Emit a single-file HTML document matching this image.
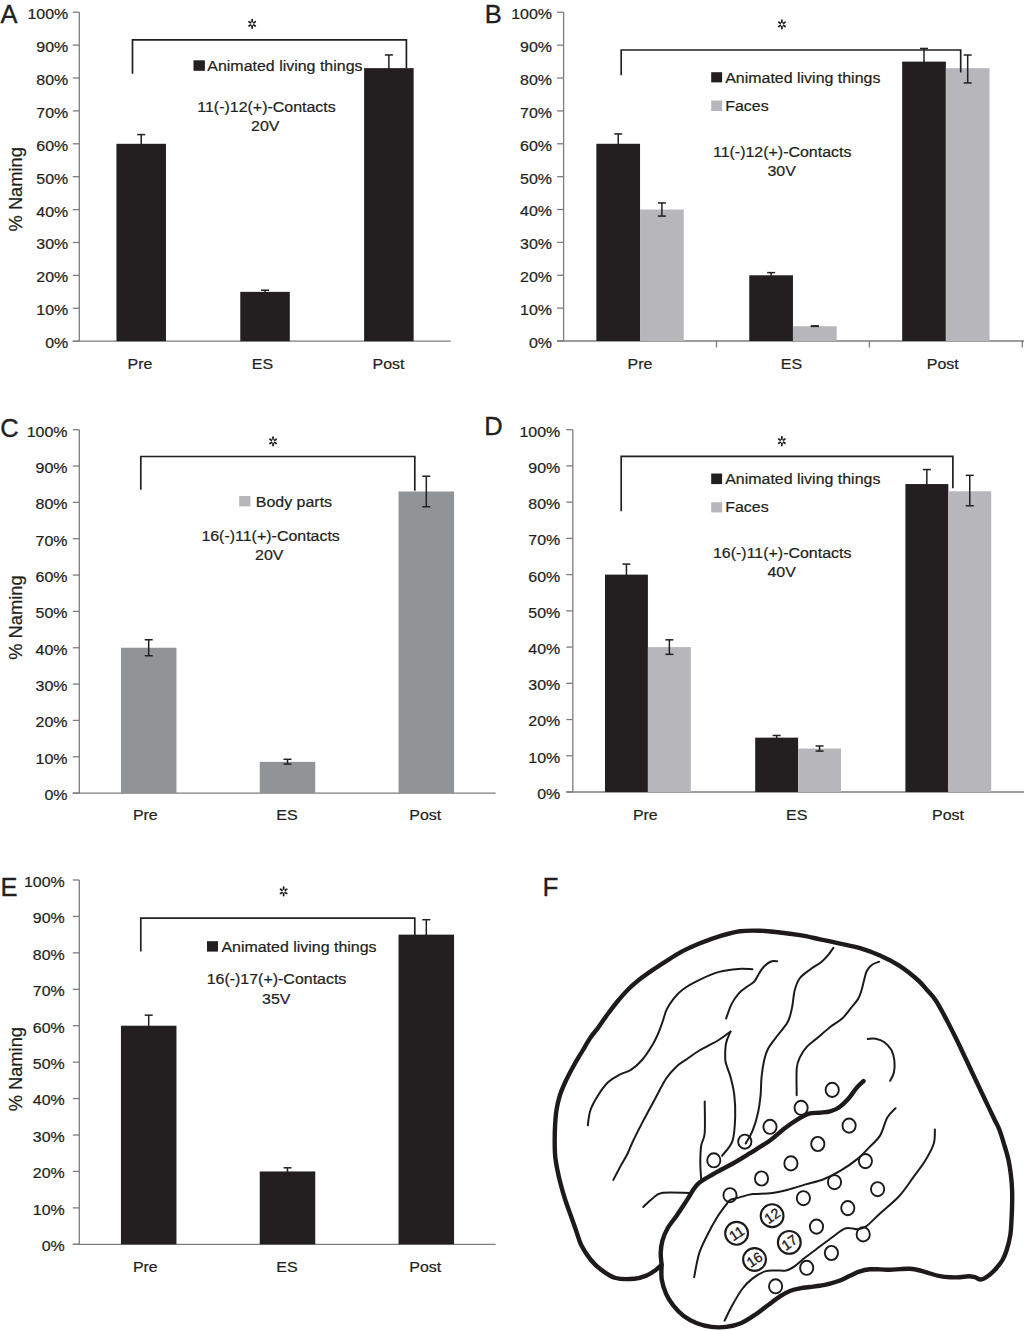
<!DOCTYPE html>
<html><head><meta charset="utf-8"><title>Figure</title>
<style>
html,body{margin:0;padding:0;background:#fff;}
svg{display:block;}
text{font-family:'Liberation Sans', Arial, Helvetica, sans-serif;}
.t{stroke:#231f20;stroke-width:0.22px;}
</style></head>
<body>
<svg width="1024" height="1331" viewBox="0 0 1024 1331">
<rect width="1024" height="1331" fill="#fff"/>
<text x="0.5" y="22.7" font-size="25.5" fill="#231f20" stroke="#231f20" stroke-width="0.35">A</text>
<text transform="translate(22.00,189.30) rotate(-90)" class="t" font-size="18.3" text-anchor="middle" fill="#231f20">% Naming</text>
<line x1="79.30" y1="12.20" x2="79.30" y2="341.20" stroke="#7d7d7d" stroke-width="1.3" stroke-linecap="butt"/>
<line x1="72.80" y1="341.20" x2="79.30" y2="341.20" stroke="#7d7d7d" stroke-width="1.3" stroke-linecap="butt"/>
<text class="t" transform="translate(68.30,348.10) scale(1.05,1)" font-size="15.2" text-anchor="end" fill="#231f20">0%</text>
<line x1="72.80" y1="308.30" x2="79.30" y2="308.30" stroke="#7d7d7d" stroke-width="1.3" stroke-linecap="butt"/>
<text class="t" transform="translate(68.30,315.20) scale(1.05,1)" font-size="15.2" text-anchor="end" fill="#231f20">10%</text>
<line x1="72.80" y1="275.40" x2="79.30" y2="275.40" stroke="#7d7d7d" stroke-width="1.3" stroke-linecap="butt"/>
<text class="t" transform="translate(68.30,282.30) scale(1.05,1)" font-size="15.2" text-anchor="end" fill="#231f20">20%</text>
<line x1="72.80" y1="242.50" x2="79.30" y2="242.50" stroke="#7d7d7d" stroke-width="1.3" stroke-linecap="butt"/>
<text class="t" transform="translate(68.30,249.40) scale(1.05,1)" font-size="15.2" text-anchor="end" fill="#231f20">30%</text>
<line x1="72.80" y1="209.60" x2="79.30" y2="209.60" stroke="#7d7d7d" stroke-width="1.3" stroke-linecap="butt"/>
<text class="t" transform="translate(68.30,216.50) scale(1.05,1)" font-size="15.2" text-anchor="end" fill="#231f20">40%</text>
<line x1="72.80" y1="176.70" x2="79.30" y2="176.70" stroke="#7d7d7d" stroke-width="1.3" stroke-linecap="butt"/>
<text class="t" transform="translate(68.30,183.60) scale(1.05,1)" font-size="15.2" text-anchor="end" fill="#231f20">50%</text>
<line x1="72.80" y1="143.80" x2="79.30" y2="143.80" stroke="#7d7d7d" stroke-width="1.3" stroke-linecap="butt"/>
<text class="t" transform="translate(68.30,150.70) scale(1.05,1)" font-size="15.2" text-anchor="end" fill="#231f20">60%</text>
<line x1="72.80" y1="110.90" x2="79.30" y2="110.90" stroke="#7d7d7d" stroke-width="1.3" stroke-linecap="butt"/>
<text class="t" transform="translate(68.30,117.80) scale(1.05,1)" font-size="15.2" text-anchor="end" fill="#231f20">70%</text>
<line x1="72.80" y1="78.00" x2="79.30" y2="78.00" stroke="#7d7d7d" stroke-width="1.3" stroke-linecap="butt"/>
<text class="t" transform="translate(68.30,84.90) scale(1.05,1)" font-size="15.2" text-anchor="end" fill="#231f20">80%</text>
<line x1="72.80" y1="45.10" x2="79.30" y2="45.10" stroke="#7d7d7d" stroke-width="1.3" stroke-linecap="butt"/>
<text class="t" transform="translate(68.30,52.00) scale(1.05,1)" font-size="15.2" text-anchor="end" fill="#231f20">90%</text>
<line x1="72.80" y1="12.20" x2="79.30" y2="12.20" stroke="#7d7d7d" stroke-width="1.3" stroke-linecap="butt"/>
<text class="t" transform="translate(68.30,19.10) scale(1.05,1)" font-size="15.2" text-anchor="end" fill="#231f20">100%</text>
<line x1="72.80" y1="341.20" x2="450.80" y2="341.20" stroke="#7d7d7d" stroke-width="1.3" stroke-linecap="butt"/>
<rect x="116.45" y="143.80" width="49.53" height="197.40" fill="#231f20"/>
<line x1="141.22" y1="134.59" x2="141.22" y2="153.01" stroke="#231f20" stroke-width="1.5" stroke-linecap="butt"/>
<line x1="137.22" y1="134.59" x2="145.22" y2="134.59" stroke="#231f20" stroke-width="1.5" stroke-linecap="butt"/>
<line x1="137.22" y1="153.01" x2="145.22" y2="153.01" stroke="#231f20" stroke-width="1.5" stroke-linecap="butt"/>
<rect x="240.28" y="291.85" width="49.53" height="49.35" fill="#231f20"/>
<line x1="265.05" y1="290.20" x2="265.05" y2="293.50" stroke="#231f20" stroke-width="1.5" stroke-linecap="butt"/>
<line x1="261.05" y1="290.20" x2="269.05" y2="290.20" stroke="#231f20" stroke-width="1.5" stroke-linecap="butt"/>
<line x1="261.05" y1="293.50" x2="269.05" y2="293.50" stroke="#231f20" stroke-width="1.5" stroke-linecap="butt"/>
<rect x="364.11" y="68.13" width="49.53" height="273.07" fill="#231f20"/>
<line x1="388.88" y1="54.97" x2="388.88" y2="81.29" stroke="#231f20" stroke-width="1.5" stroke-linecap="butt"/>
<line x1="384.88" y1="54.97" x2="392.88" y2="54.97" stroke="#231f20" stroke-width="1.5" stroke-linecap="butt"/>
<line x1="384.88" y1="81.29" x2="392.88" y2="81.29" stroke="#231f20" stroke-width="1.5" stroke-linecap="butt"/>
<text class="t" transform="translate(140.00,369.30) scale(1.05,1)" font-size="15.2" text-anchor="middle" fill="#231f20">Pre</text>
<text class="t" transform="translate(262.50,369.30) scale(1.05,1)" font-size="15.2" text-anchor="middle" fill="#231f20">ES</text>
<text class="t" transform="translate(388.50,369.30) scale(1.05,1)" font-size="15.2" text-anchor="middle" fill="#231f20">Post</text>
<path d="M132.50,73.80V39.90H406.40V68.30" stroke="#231f20" stroke-width="1.7" fill="none"/>
<path d="M252.15,21.60L252.15,19.60M253.77,22.70L255.24,21.70M253.77,24.90L255.24,25.90M252.15,26.00L252.15,28.00M250.53,24.90L249.06,25.90M250.53,22.70L249.06,21.70" stroke="#231f20" stroke-width="1.8" stroke-linecap="round" fill="none"/>
<rect x="193.50" y="60.30" width="11.40" height="10.50" fill="#231f20"/>
<text class="t" transform="translate(207.30,70.60) scale(1.05,1)" font-size="15.2" text-anchor="start" fill="#231f20">Animated living things</text>
<text class="t" transform="translate(266.50,112.20) scale(1.05,1)" font-size="15.2" text-anchor="middle" fill="#231f20">11(-)12(+)-Contacts</text>
<text class="t" transform="translate(265.30,130.80) scale(1.05,1)" font-size="15.2" text-anchor="middle" fill="#231f20">20V</text>
<text x="484.8" y="22.9" font-size="25.5" fill="#231f20" stroke="#231f20" stroke-width="0.35">B</text>
<line x1="563.60" y1="12.30" x2="563.60" y2="341.00" stroke="#7d7d7d" stroke-width="1.3" stroke-linecap="butt"/>
<line x1="557.10" y1="341.00" x2="563.60" y2="341.00" stroke="#7d7d7d" stroke-width="1.3" stroke-linecap="butt"/>
<text class="t" transform="translate(552.00,347.90) scale(1.05,1)" font-size="15.2" text-anchor="end" fill="#231f20">0%</text>
<line x1="557.10" y1="308.13" x2="563.60" y2="308.13" stroke="#7d7d7d" stroke-width="1.3" stroke-linecap="butt"/>
<text class="t" transform="translate(552.00,315.03) scale(1.05,1)" font-size="15.2" text-anchor="end" fill="#231f20">10%</text>
<line x1="557.10" y1="275.26" x2="563.60" y2="275.26" stroke="#7d7d7d" stroke-width="1.3" stroke-linecap="butt"/>
<text class="t" transform="translate(552.00,282.16) scale(1.05,1)" font-size="15.2" text-anchor="end" fill="#231f20">20%</text>
<line x1="557.10" y1="242.39" x2="563.60" y2="242.39" stroke="#7d7d7d" stroke-width="1.3" stroke-linecap="butt"/>
<text class="t" transform="translate(552.00,249.29) scale(1.05,1)" font-size="15.2" text-anchor="end" fill="#231f20">30%</text>
<line x1="557.10" y1="209.52" x2="563.60" y2="209.52" stroke="#7d7d7d" stroke-width="1.3" stroke-linecap="butt"/>
<text class="t" transform="translate(552.00,216.42) scale(1.05,1)" font-size="15.2" text-anchor="end" fill="#231f20">40%</text>
<line x1="557.10" y1="176.65" x2="563.60" y2="176.65" stroke="#7d7d7d" stroke-width="1.3" stroke-linecap="butt"/>
<text class="t" transform="translate(552.00,183.55) scale(1.05,1)" font-size="15.2" text-anchor="end" fill="#231f20">50%</text>
<line x1="557.10" y1="143.78" x2="563.60" y2="143.78" stroke="#7d7d7d" stroke-width="1.3" stroke-linecap="butt"/>
<text class="t" transform="translate(552.00,150.68) scale(1.05,1)" font-size="15.2" text-anchor="end" fill="#231f20">60%</text>
<line x1="557.10" y1="110.91" x2="563.60" y2="110.91" stroke="#7d7d7d" stroke-width="1.3" stroke-linecap="butt"/>
<text class="t" transform="translate(552.00,117.81) scale(1.05,1)" font-size="15.2" text-anchor="end" fill="#231f20">70%</text>
<line x1="557.10" y1="78.04" x2="563.60" y2="78.04" stroke="#7d7d7d" stroke-width="1.3" stroke-linecap="butt"/>
<text class="t" transform="translate(552.00,84.94) scale(1.05,1)" font-size="15.2" text-anchor="end" fill="#231f20">80%</text>
<line x1="557.10" y1="45.17" x2="563.60" y2="45.17" stroke="#7d7d7d" stroke-width="1.3" stroke-linecap="butt"/>
<text class="t" transform="translate(552.00,52.07) scale(1.05,1)" font-size="15.2" text-anchor="end" fill="#231f20">90%</text>
<line x1="557.10" y1="12.30" x2="563.60" y2="12.30" stroke="#7d7d7d" stroke-width="1.3" stroke-linecap="butt"/>
<text class="t" transform="translate(552.00,19.20) scale(1.05,1)" font-size="15.2" text-anchor="end" fill="#231f20">100%</text>
<line x1="557.10" y1="341.00" x2="1024.00" y2="341.00" stroke="#7d7d7d" stroke-width="1.3" stroke-linecap="butt"/>
<line x1="716.50" y1="341.00" x2="716.50" y2="347.50" stroke="#7d7d7d" stroke-width="1.3" stroke-linecap="butt"/>
<line x1="869.40" y1="341.00" x2="869.40" y2="347.50" stroke="#7d7d7d" stroke-width="1.3" stroke-linecap="butt"/>
<line x1="1022.30" y1="341.00" x2="1022.30" y2="347.50" stroke="#7d7d7d" stroke-width="1.3" stroke-linecap="butt"/>
<rect x="596.36" y="143.78" width="43.69" height="197.22" fill="#231f20"/>
<rect x="640.05" y="209.52" width="43.69" height="131.48" fill="#b7b6bb"/>
<line x1="618.21" y1="133.92" x2="618.21" y2="153.64" stroke="#231f20" stroke-width="1.5" stroke-linecap="butt"/>
<line x1="614.21" y1="133.92" x2="622.21" y2="133.92" stroke="#231f20" stroke-width="1.5" stroke-linecap="butt"/>
<line x1="614.21" y1="153.64" x2="622.21" y2="153.64" stroke="#231f20" stroke-width="1.5" stroke-linecap="butt"/>
<line x1="661.89" y1="202.95" x2="661.89" y2="216.09" stroke="#231f20" stroke-width="1.5" stroke-linecap="butt"/>
<line x1="657.89" y1="202.95" x2="665.89" y2="202.95" stroke="#231f20" stroke-width="1.5" stroke-linecap="butt"/>
<line x1="657.89" y1="216.09" x2="665.89" y2="216.09" stroke="#231f20" stroke-width="1.5" stroke-linecap="butt"/>
<rect x="749.26" y="275.26" width="43.69" height="65.74" fill="#231f20"/>
<rect x="792.95" y="326.21" width="43.69" height="14.79" fill="#b7b6bb"/>
<line x1="771.11" y1="272.63" x2="771.11" y2="278.55" stroke="#231f20" stroke-width="1.5" stroke-linecap="butt"/>
<line x1="767.11" y1="272.63" x2="775.11" y2="272.63" stroke="#231f20" stroke-width="1.5" stroke-linecap="butt"/>
<line x1="767.11" y1="278.55" x2="775.11" y2="278.55" stroke="#231f20" stroke-width="1.5" stroke-linecap="butt"/>
<line x1="814.79" y1="325.88" x2="814.79" y2="326.37" stroke="#231f20" stroke-width="1.5" stroke-linecap="butt"/>
<line x1="810.79" y1="325.88" x2="818.79" y2="325.88" stroke="#231f20" stroke-width="1.5" stroke-linecap="butt"/>
<line x1="810.79" y1="326.37" x2="818.79" y2="326.37" stroke="#231f20" stroke-width="1.5" stroke-linecap="butt"/>
<rect x="902.16" y="61.61" width="43.69" height="279.39" fill="#231f20"/>
<rect x="945.85" y="68.18" width="43.69" height="272.82" fill="#b7b6bb"/>
<line x1="924.01" y1="48.46" x2="924.01" y2="74.75" stroke="#231f20" stroke-width="1.5" stroke-linecap="butt"/>
<line x1="920.01" y1="48.46" x2="928.01" y2="48.46" stroke="#231f20" stroke-width="1.5" stroke-linecap="butt"/>
<line x1="920.01" y1="74.75" x2="928.01" y2="74.75" stroke="#231f20" stroke-width="1.5" stroke-linecap="butt"/>
<line x1="967.69" y1="55.03" x2="967.69" y2="82.97" stroke="#231f20" stroke-width="1.5" stroke-linecap="butt"/>
<line x1="963.69" y1="55.03" x2="971.69" y2="55.03" stroke="#231f20" stroke-width="1.5" stroke-linecap="butt"/>
<line x1="963.69" y1="82.97" x2="971.69" y2="82.97" stroke="#231f20" stroke-width="1.5" stroke-linecap="butt"/>
<text class="t" transform="translate(640.00,369.20) scale(1.05,1)" font-size="15.2" text-anchor="middle" fill="#231f20">Pre</text>
<text class="t" transform="translate(791.50,369.20) scale(1.05,1)" font-size="15.2" text-anchor="middle" fill="#231f20">ES</text>
<text class="t" transform="translate(942.80,369.20) scale(1.05,1)" font-size="15.2" text-anchor="middle" fill="#231f20">Post</text>
<path d="M621.20,75.20V50.00H960.70V72.40" stroke="#231f20" stroke-width="1.7" fill="none"/>
<path d="M781.95,22.20L781.95,20.20M783.57,23.30L785.04,22.30M783.57,25.50L785.04,26.50M781.95,26.60L781.95,28.60M780.33,25.50L778.86,26.50M780.33,23.30L778.86,22.30" stroke="#231f20" stroke-width="1.8" stroke-linecap="round" fill="none"/>
<rect x="711.20" y="72.20" width="10.90" height="10.20" fill="#231f20"/>
<text class="t" transform="translate(725.20,83.20) scale(1.05,1)" font-size="15.2" text-anchor="start" fill="#231f20">Animated living things</text>
<rect x="711.20" y="100.50" width="10.90" height="10.50" fill="#b7b6bb"/>
<text class="t" transform="translate(725.20,111.00) scale(1.05,1)" font-size="15.2" text-anchor="start" fill="#231f20">Faces</text>
<text class="t" transform="translate(782.20,157.20) scale(1.05,1)" font-size="15.2" text-anchor="middle" fill="#231f20">11(-)12(+)-Contacts</text>
<text class="t" transform="translate(781.60,175.50) scale(1.05,1)" font-size="15.2" text-anchor="middle" fill="#231f20">30V</text>
<text x="0.3" y="436.8" font-size="25.5" fill="#231f20" stroke="#231f20" stroke-width="0.35">C</text>
<text transform="translate(21.80,617.60) rotate(-90)" class="t" font-size="18.3" text-anchor="middle" fill="#231f20">% Naming</text>
<line x1="79.30" y1="429.70" x2="79.30" y2="793.10" stroke="#7d7d7d" stroke-width="1.3" stroke-linecap="butt"/>
<line x1="72.80" y1="793.10" x2="79.30" y2="793.10" stroke="#7d7d7d" stroke-width="1.3" stroke-linecap="butt"/>
<text class="t" transform="translate(67.50,800.00) scale(1.05,1)" font-size="15.2" text-anchor="end" fill="#231f20">0%</text>
<line x1="72.80" y1="756.76" x2="79.30" y2="756.76" stroke="#7d7d7d" stroke-width="1.3" stroke-linecap="butt"/>
<text class="t" transform="translate(67.50,763.66) scale(1.05,1)" font-size="15.2" text-anchor="end" fill="#231f20">10%</text>
<line x1="72.80" y1="720.42" x2="79.30" y2="720.42" stroke="#7d7d7d" stroke-width="1.3" stroke-linecap="butt"/>
<text class="t" transform="translate(67.50,727.32) scale(1.05,1)" font-size="15.2" text-anchor="end" fill="#231f20">20%</text>
<line x1="72.80" y1="684.08" x2="79.30" y2="684.08" stroke="#7d7d7d" stroke-width="1.3" stroke-linecap="butt"/>
<text class="t" transform="translate(67.50,690.98) scale(1.05,1)" font-size="15.2" text-anchor="end" fill="#231f20">30%</text>
<line x1="72.80" y1="647.74" x2="79.30" y2="647.74" stroke="#7d7d7d" stroke-width="1.3" stroke-linecap="butt"/>
<text class="t" transform="translate(67.50,654.64) scale(1.05,1)" font-size="15.2" text-anchor="end" fill="#231f20">40%</text>
<line x1="72.80" y1="611.40" x2="79.30" y2="611.40" stroke="#7d7d7d" stroke-width="1.3" stroke-linecap="butt"/>
<text class="t" transform="translate(67.50,618.30) scale(1.05,1)" font-size="15.2" text-anchor="end" fill="#231f20">50%</text>
<line x1="72.80" y1="575.06" x2="79.30" y2="575.06" stroke="#7d7d7d" stroke-width="1.3" stroke-linecap="butt"/>
<text class="t" transform="translate(67.50,581.96) scale(1.05,1)" font-size="15.2" text-anchor="end" fill="#231f20">60%</text>
<line x1="72.80" y1="538.72" x2="79.30" y2="538.72" stroke="#7d7d7d" stroke-width="1.3" stroke-linecap="butt"/>
<text class="t" transform="translate(67.50,545.62) scale(1.05,1)" font-size="15.2" text-anchor="end" fill="#231f20">70%</text>
<line x1="72.80" y1="502.38" x2="79.30" y2="502.38" stroke="#7d7d7d" stroke-width="1.3" stroke-linecap="butt"/>
<text class="t" transform="translate(67.50,509.28) scale(1.05,1)" font-size="15.2" text-anchor="end" fill="#231f20">80%</text>
<line x1="72.80" y1="466.04" x2="79.30" y2="466.04" stroke="#7d7d7d" stroke-width="1.3" stroke-linecap="butt"/>
<text class="t" transform="translate(67.50,472.94) scale(1.05,1)" font-size="15.2" text-anchor="end" fill="#231f20">90%</text>
<line x1="72.80" y1="429.70" x2="79.30" y2="429.70" stroke="#7d7d7d" stroke-width="1.3" stroke-linecap="butt"/>
<text class="t" transform="translate(67.50,436.60) scale(1.05,1)" font-size="15.2" text-anchor="end" fill="#231f20">100%</text>
<line x1="72.80" y1="793.10" x2="495.70" y2="793.10" stroke="#7d7d7d" stroke-width="1.3" stroke-linecap="butt"/>
<rect x="120.94" y="647.74" width="55.52" height="145.36" fill="#909497"/>
<line x1="148.70" y1="639.75" x2="148.70" y2="655.73" stroke="#231f20" stroke-width="1.5" stroke-linecap="butt"/>
<line x1="144.70" y1="639.75" x2="152.70" y2="639.75" stroke="#231f20" stroke-width="1.5" stroke-linecap="butt"/>
<line x1="144.70" y1="655.73" x2="152.70" y2="655.73" stroke="#231f20" stroke-width="1.5" stroke-linecap="butt"/>
<rect x="259.74" y="761.85" width="55.52" height="31.25" fill="#909497"/>
<line x1="287.50" y1="759.30" x2="287.50" y2="764.03" stroke="#231f20" stroke-width="1.5" stroke-linecap="butt"/>
<line x1="283.50" y1="759.30" x2="291.50" y2="759.30" stroke="#231f20" stroke-width="1.5" stroke-linecap="butt"/>
<line x1="283.50" y1="764.03" x2="291.50" y2="764.03" stroke="#231f20" stroke-width="1.5" stroke-linecap="butt"/>
<rect x="398.54" y="491.48" width="55.52" height="301.62" fill="#909497"/>
<line x1="426.30" y1="476.22" x2="426.30" y2="506.74" stroke="#231f20" stroke-width="1.5" stroke-linecap="butt"/>
<line x1="422.30" y1="476.22" x2="430.30" y2="476.22" stroke="#231f20" stroke-width="1.5" stroke-linecap="butt"/>
<line x1="422.30" y1="506.74" x2="430.30" y2="506.74" stroke="#231f20" stroke-width="1.5" stroke-linecap="butt"/>
<text class="t" transform="translate(145.30,820.00) scale(1.05,1)" font-size="15.2" text-anchor="middle" fill="#231f20">Pre</text>
<text class="t" transform="translate(286.90,820.00) scale(1.05,1)" font-size="15.2" text-anchor="middle" fill="#231f20">ES</text>
<text class="t" transform="translate(425.20,820.00) scale(1.05,1)" font-size="15.2" text-anchor="middle" fill="#231f20">Post</text>
<path d="M140.80,489.80V456.50H414.80V490.70" stroke="#231f20" stroke-width="1.7" fill="none"/>
<path d="M273.05,439.10L273.05,437.10M274.67,440.20L276.14,439.20M274.67,442.40L276.14,443.40M273.05,443.50L273.05,445.50M271.43,442.40L269.96,443.40M271.43,440.20L269.96,439.20" stroke="#231f20" stroke-width="1.8" stroke-linecap="round" fill="none"/>
<rect x="239.20" y="496.00" width="11.20" height="10.40" fill="#b7b6bb"/>
<text class="t" transform="translate(255.80,506.80) scale(1.05,1)" font-size="15.2" text-anchor="start" fill="#231f20">Body parts</text>
<text class="t" transform="translate(270.60,540.70) scale(1.05,1)" font-size="15.2" text-anchor="middle" fill="#231f20">16(-)11(+)-Contacts</text>
<text class="t" transform="translate(269.30,559.60) scale(1.05,1)" font-size="15.2" text-anchor="middle" fill="#231f20">20V</text>
<text x="484.3" y="435.4" font-size="25.5" fill="#231f20" stroke="#231f20" stroke-width="0.35">D</text>
<line x1="572.80" y1="429.70" x2="572.80" y2="792.00" stroke="#7d7d7d" stroke-width="1.3" stroke-linecap="butt"/>
<line x1="566.30" y1="792.00" x2="572.80" y2="792.00" stroke="#7d7d7d" stroke-width="1.3" stroke-linecap="butt"/>
<text class="t" transform="translate(560.20,798.90) scale(1.05,1)" font-size="15.2" text-anchor="end" fill="#231f20">0%</text>
<line x1="566.30" y1="755.77" x2="572.80" y2="755.77" stroke="#7d7d7d" stroke-width="1.3" stroke-linecap="butt"/>
<text class="t" transform="translate(560.20,762.67) scale(1.05,1)" font-size="15.2" text-anchor="end" fill="#231f20">10%</text>
<line x1="566.30" y1="719.54" x2="572.80" y2="719.54" stroke="#7d7d7d" stroke-width="1.3" stroke-linecap="butt"/>
<text class="t" transform="translate(560.20,726.44) scale(1.05,1)" font-size="15.2" text-anchor="end" fill="#231f20">20%</text>
<line x1="566.30" y1="683.31" x2="572.80" y2="683.31" stroke="#7d7d7d" stroke-width="1.3" stroke-linecap="butt"/>
<text class="t" transform="translate(560.20,690.21) scale(1.05,1)" font-size="15.2" text-anchor="end" fill="#231f20">30%</text>
<line x1="566.30" y1="647.08" x2="572.80" y2="647.08" stroke="#7d7d7d" stroke-width="1.3" stroke-linecap="butt"/>
<text class="t" transform="translate(560.20,653.98) scale(1.05,1)" font-size="15.2" text-anchor="end" fill="#231f20">40%</text>
<line x1="566.30" y1="610.85" x2="572.80" y2="610.85" stroke="#7d7d7d" stroke-width="1.3" stroke-linecap="butt"/>
<text class="t" transform="translate(560.20,617.75) scale(1.05,1)" font-size="15.2" text-anchor="end" fill="#231f20">50%</text>
<line x1="566.30" y1="574.62" x2="572.80" y2="574.62" stroke="#7d7d7d" stroke-width="1.3" stroke-linecap="butt"/>
<text class="t" transform="translate(560.20,581.52) scale(1.05,1)" font-size="15.2" text-anchor="end" fill="#231f20">60%</text>
<line x1="566.30" y1="538.39" x2="572.80" y2="538.39" stroke="#7d7d7d" stroke-width="1.3" stroke-linecap="butt"/>
<text class="t" transform="translate(560.20,545.29) scale(1.05,1)" font-size="15.2" text-anchor="end" fill="#231f20">70%</text>
<line x1="566.30" y1="502.16" x2="572.80" y2="502.16" stroke="#7d7d7d" stroke-width="1.3" stroke-linecap="butt"/>
<text class="t" transform="translate(560.20,509.06) scale(1.05,1)" font-size="15.2" text-anchor="end" fill="#231f20">80%</text>
<line x1="566.30" y1="465.93" x2="572.80" y2="465.93" stroke="#7d7d7d" stroke-width="1.3" stroke-linecap="butt"/>
<text class="t" transform="translate(560.20,472.83) scale(1.05,1)" font-size="15.2" text-anchor="end" fill="#231f20">90%</text>
<line x1="566.30" y1="429.70" x2="572.80" y2="429.70" stroke="#7d7d7d" stroke-width="1.3" stroke-linecap="butt"/>
<text class="t" transform="translate(560.20,436.60) scale(1.05,1)" font-size="15.2" text-anchor="end" fill="#231f20">100%</text>
<line x1="566.30" y1="792.00" x2="1024.00" y2="792.00" stroke="#7d7d7d" stroke-width="1.3" stroke-linecap="butt"/>
<rect x="604.99" y="574.62" width="42.91" height="217.38" fill="#231f20"/>
<rect x="647.90" y="647.08" width="42.91" height="144.92" fill="#b7b6bb"/>
<line x1="626.44" y1="564.11" x2="626.44" y2="585.49" stroke="#231f20" stroke-width="1.5" stroke-linecap="butt"/>
<line x1="622.44" y1="564.11" x2="630.44" y2="564.11" stroke="#231f20" stroke-width="1.5" stroke-linecap="butt"/>
<line x1="622.44" y1="585.49" x2="630.44" y2="585.49" stroke="#231f20" stroke-width="1.5" stroke-linecap="butt"/>
<line x1="669.36" y1="639.83" x2="669.36" y2="654.33" stroke="#231f20" stroke-width="1.5" stroke-linecap="butt"/>
<line x1="665.36" y1="639.83" x2="673.36" y2="639.83" stroke="#231f20" stroke-width="1.5" stroke-linecap="butt"/>
<line x1="665.36" y1="654.33" x2="673.36" y2="654.33" stroke="#231f20" stroke-width="1.5" stroke-linecap="butt"/>
<rect x="755.19" y="737.65" width="42.91" height="54.35" fill="#231f20"/>
<rect x="798.10" y="748.52" width="42.91" height="43.48" fill="#b7b6bb"/>
<line x1="776.64" y1="735.48" x2="776.64" y2="739.83" stroke="#231f20" stroke-width="1.5" stroke-linecap="butt"/>
<line x1="772.64" y1="735.48" x2="780.64" y2="735.48" stroke="#231f20" stroke-width="1.5" stroke-linecap="butt"/>
<line x1="772.64" y1="739.83" x2="780.64" y2="739.83" stroke="#231f20" stroke-width="1.5" stroke-linecap="butt"/>
<line x1="819.56" y1="745.99" x2="819.56" y2="751.06" stroke="#231f20" stroke-width="1.5" stroke-linecap="butt"/>
<line x1="815.56" y1="745.99" x2="823.56" y2="745.99" stroke="#231f20" stroke-width="1.5" stroke-linecap="butt"/>
<line x1="815.56" y1="751.06" x2="823.56" y2="751.06" stroke="#231f20" stroke-width="1.5" stroke-linecap="butt"/>
<rect x="905.39" y="484.04" width="42.91" height="307.96" fill="#231f20"/>
<rect x="948.30" y="491.29" width="42.91" height="300.71" fill="#b7b6bb"/>
<line x1="926.84" y1="469.55" x2="926.84" y2="498.54" stroke="#231f20" stroke-width="1.5" stroke-linecap="butt"/>
<line x1="922.84" y1="469.55" x2="930.84" y2="469.55" stroke="#231f20" stroke-width="1.5" stroke-linecap="butt"/>
<line x1="922.84" y1="498.54" x2="930.84" y2="498.54" stroke="#231f20" stroke-width="1.5" stroke-linecap="butt"/>
<line x1="969.76" y1="475.35" x2="969.76" y2="505.78" stroke="#231f20" stroke-width="1.5" stroke-linecap="butt"/>
<line x1="965.76" y1="475.35" x2="973.76" y2="475.35" stroke="#231f20" stroke-width="1.5" stroke-linecap="butt"/>
<line x1="965.76" y1="505.78" x2="973.76" y2="505.78" stroke="#231f20" stroke-width="1.5" stroke-linecap="butt"/>
<text class="t" transform="translate(645.30,819.50) scale(1.05,1)" font-size="15.2" text-anchor="middle" fill="#231f20">Pre</text>
<text class="t" transform="translate(796.70,819.50) scale(1.05,1)" font-size="15.2" text-anchor="middle" fill="#231f20">ES</text>
<text class="t" transform="translate(948.00,819.50) scale(1.05,1)" font-size="15.2" text-anchor="middle" fill="#231f20">Post</text>
<path d="M621.20,511.20V456.40H952.90V488.30" stroke="#231f20" stroke-width="1.7" fill="none"/>
<path d="M781.85,439.00L781.85,437.00M783.47,440.10L784.94,439.10M783.47,442.30L784.94,443.30M781.85,443.40L781.85,445.40M780.23,442.30L778.76,443.30M780.23,440.10L778.76,439.10" stroke="#231f20" stroke-width="1.8" stroke-linecap="round" fill="none"/>
<rect x="711.20" y="473.50" width="10.90" height="10.60" fill="#231f20"/>
<text class="t" transform="translate(725.20,484.40) scale(1.05,1)" font-size="15.2" text-anchor="start" fill="#231f20">Animated living things</text>
<rect x="711.20" y="502.20" width="10.90" height="10.20" fill="#b7b6bb"/>
<text class="t" transform="translate(725.20,512.40) scale(1.05,1)" font-size="15.2" text-anchor="start" fill="#231f20">Faces</text>
<text class="t" transform="translate(782.20,557.50) scale(1.05,1)" font-size="15.2" text-anchor="middle" fill="#231f20">16(-)11(+)-Contacts</text>
<text class="t" transform="translate(781.60,577.00) scale(1.05,1)" font-size="15.2" text-anchor="middle" fill="#231f20">40V</text>
<text x="0.6" y="896.4" font-size="25.5" fill="#231f20" stroke="#231f20" stroke-width="0.35">E</text>
<text transform="translate(22.00,1069.20) rotate(-90)" class="t" font-size="18.3" text-anchor="middle" fill="#231f20">% Naming</text>
<line x1="79.30" y1="880.00" x2="79.30" y2="1244.30" stroke="#7d7d7d" stroke-width="1.3" stroke-linecap="butt"/>
<line x1="72.80" y1="1244.30" x2="79.30" y2="1244.30" stroke="#7d7d7d" stroke-width="1.3" stroke-linecap="butt"/>
<text class="t" transform="translate(64.80,1251.20) scale(1.05,1)" font-size="15.2" text-anchor="end" fill="#231f20">0%</text>
<line x1="72.80" y1="1207.87" x2="79.30" y2="1207.87" stroke="#7d7d7d" stroke-width="1.3" stroke-linecap="butt"/>
<text class="t" transform="translate(64.80,1214.77) scale(1.05,1)" font-size="15.2" text-anchor="end" fill="#231f20">10%</text>
<line x1="72.80" y1="1171.44" x2="79.30" y2="1171.44" stroke="#7d7d7d" stroke-width="1.3" stroke-linecap="butt"/>
<text class="t" transform="translate(64.80,1178.34) scale(1.05,1)" font-size="15.2" text-anchor="end" fill="#231f20">20%</text>
<line x1="72.80" y1="1135.01" x2="79.30" y2="1135.01" stroke="#7d7d7d" stroke-width="1.3" stroke-linecap="butt"/>
<text class="t" transform="translate(64.80,1141.91) scale(1.05,1)" font-size="15.2" text-anchor="end" fill="#231f20">30%</text>
<line x1="72.80" y1="1098.58" x2="79.30" y2="1098.58" stroke="#7d7d7d" stroke-width="1.3" stroke-linecap="butt"/>
<text class="t" transform="translate(64.80,1105.48) scale(1.05,1)" font-size="15.2" text-anchor="end" fill="#231f20">40%</text>
<line x1="72.80" y1="1062.15" x2="79.30" y2="1062.15" stroke="#7d7d7d" stroke-width="1.3" stroke-linecap="butt"/>
<text class="t" transform="translate(64.80,1069.05) scale(1.05,1)" font-size="15.2" text-anchor="end" fill="#231f20">50%</text>
<line x1="72.80" y1="1025.72" x2="79.30" y2="1025.72" stroke="#7d7d7d" stroke-width="1.3" stroke-linecap="butt"/>
<text class="t" transform="translate(64.80,1032.62) scale(1.05,1)" font-size="15.2" text-anchor="end" fill="#231f20">60%</text>
<line x1="72.80" y1="989.29" x2="79.30" y2="989.29" stroke="#7d7d7d" stroke-width="1.3" stroke-linecap="butt"/>
<text class="t" transform="translate(64.80,996.19) scale(1.05,1)" font-size="15.2" text-anchor="end" fill="#231f20">70%</text>
<line x1="72.80" y1="952.86" x2="79.30" y2="952.86" stroke="#7d7d7d" stroke-width="1.3" stroke-linecap="butt"/>
<text class="t" transform="translate(64.80,959.76) scale(1.05,1)" font-size="15.2" text-anchor="end" fill="#231f20">80%</text>
<line x1="72.80" y1="916.43" x2="79.30" y2="916.43" stroke="#7d7d7d" stroke-width="1.3" stroke-linecap="butt"/>
<text class="t" transform="translate(64.80,923.33) scale(1.05,1)" font-size="15.2" text-anchor="end" fill="#231f20">90%</text>
<line x1="72.80" y1="880.00" x2="79.30" y2="880.00" stroke="#7d7d7d" stroke-width="1.3" stroke-linecap="butt"/>
<text class="t" transform="translate(64.80,886.90) scale(1.05,1)" font-size="15.2" text-anchor="end" fill="#231f20">100%</text>
<line x1="72.80" y1="1244.30" x2="495.70" y2="1244.30" stroke="#7d7d7d" stroke-width="1.3" stroke-linecap="butt"/>
<rect x="120.94" y="1025.72" width="55.52" height="218.58" fill="#231f20"/>
<line x1="148.70" y1="1015.16" x2="148.70" y2="1036.65" stroke="#231f20" stroke-width="1.5" stroke-linecap="butt"/>
<line x1="144.70" y1="1015.16" x2="152.70" y2="1015.16" stroke="#231f20" stroke-width="1.5" stroke-linecap="butt"/>
<line x1="144.70" y1="1036.65" x2="152.70" y2="1036.65" stroke="#231f20" stroke-width="1.5" stroke-linecap="butt"/>
<rect x="259.74" y="1171.44" width="55.52" height="72.86" fill="#231f20"/>
<line x1="287.50" y1="1167.80" x2="287.50" y2="1175.08" stroke="#231f20" stroke-width="1.5" stroke-linecap="butt"/>
<line x1="283.50" y1="1167.80" x2="291.50" y2="1167.80" stroke="#231f20" stroke-width="1.5" stroke-linecap="butt"/>
<line x1="283.50" y1="1175.08" x2="291.50" y2="1175.08" stroke="#231f20" stroke-width="1.5" stroke-linecap="butt"/>
<rect x="398.54" y="934.64" width="55.52" height="309.65" fill="#231f20"/>
<line x1="426.30" y1="919.71" x2="426.30" y2="949.22" stroke="#231f20" stroke-width="1.5" stroke-linecap="butt"/>
<line x1="422.30" y1="919.71" x2="430.30" y2="919.71" stroke="#231f20" stroke-width="1.5" stroke-linecap="butt"/>
<line x1="422.30" y1="949.22" x2="430.30" y2="949.22" stroke="#231f20" stroke-width="1.5" stroke-linecap="butt"/>
<text class="t" transform="translate(145.30,1272.40) scale(1.05,1)" font-size="15.2" text-anchor="middle" fill="#231f20">Pre</text>
<text class="t" transform="translate(286.90,1272.40) scale(1.05,1)" font-size="15.2" text-anchor="middle" fill="#231f20">ES</text>
<text class="t" transform="translate(425.20,1272.40) scale(1.05,1)" font-size="15.2" text-anchor="middle" fill="#231f20">Post</text>
<path d="M140.80,951.60V918.20H414.80V935.20" stroke="#231f20" stroke-width="1.7" fill="none"/>
<path d="M283.65,889.10L283.65,887.10M285.27,890.20L286.74,889.20M285.27,892.40L286.74,893.40M283.65,893.50L283.65,895.50M282.03,892.40L280.56,893.40M282.03,890.20L280.56,889.20" stroke="#231f20" stroke-width="1.8" stroke-linecap="round" fill="none"/>
<rect x="207.00" y="941.20" width="11.00" height="10.40" fill="#231f20"/>
<text class="t" transform="translate(221.40,951.60) scale(1.05,1)" font-size="15.2" text-anchor="start" fill="#231f20">Animated living things</text>
<text class="t" transform="translate(276.50,984.40) scale(1.05,1)" font-size="15.2" text-anchor="middle" fill="#231f20">16(-)17(+)-Contacts</text>
<text class="t" transform="translate(276.20,1003.60) scale(1.05,1)" font-size="15.2" text-anchor="middle" fill="#231f20">35V</text>
<text x="542.5" y="896.1" font-size="26" fill="#231f20" stroke="#231f20" stroke-width="0.3">F</text>
<path d="M661.6,1264.9C660.6,1265.8 658.0,1268.4 655.5,1270.2C653.0,1272.0 650.2,1274.1 646.7,1275.5C643.2,1276.9 639.6,1278.4 634.4,1278.8C629.2,1279.2 621.1,1279.5 615.6,1278.0C610.1,1276.5 605.6,1273.0 601.5,1270.0C597.4,1267.0 594.3,1264.2 590.9,1260.0C587.5,1255.8 583.7,1250.0 581.2,1245.0C578.7,1240.0 577.7,1235.0 575.9,1230.0C574.1,1225.0 572.4,1220.0 570.6,1215.0C568.8,1210.0 566.9,1205.0 565.3,1200.0C563.7,1195.0 562.2,1190.0 560.9,1185.0C559.6,1180.0 558.4,1175.0 557.4,1170.0C556.4,1165.0 555.5,1160.0 555.1,1155.0C554.7,1150.0 554.7,1145.0 554.7,1140.0C554.7,1135.0 554.8,1130.0 555.1,1125.0C555.4,1120.0 555.7,1115.0 556.5,1110.0C557.3,1105.0 558.4,1100.0 560.0,1095.0C561.6,1090.0 563.9,1085.0 566.2,1080.0C568.6,1075.0 571.3,1070.0 574.1,1065.0C576.9,1060.0 580.3,1054.6 583.0,1050.0C585.7,1045.4 588.0,1041.2 590.5,1037.5C593.0,1033.8 595.4,1031.5 598.3,1027.5C601.2,1023.5 604.7,1018.1 607.9,1013.8C611.1,1009.5 614.0,1005.6 617.4,1001.5C620.8,997.4 624.3,993.2 628.4,989.2C632.5,985.2 637.5,981.1 642.0,977.6C646.5,974.1 651.1,971.1 655.7,968.0C660.3,964.9 664.8,962.0 669.4,959.1C674.0,956.2 678.0,953.5 683.1,950.9C688.2,948.3 693.9,945.8 700.0,943.3C706.1,940.8 713.3,938.1 720.0,936.1C726.7,934.1 733.3,932.1 740.0,931.2C746.7,930.3 753.3,930.5 760.0,930.7C766.7,930.9 773.3,931.8 780.0,932.5C786.7,933.2 793.3,934.1 800.0,935.2C806.7,936.3 813.3,937.9 820.0,939.3C826.7,940.7 833.3,942.1 840.0,943.6C846.7,945.1 853.3,946.2 860.0,948.2C866.7,950.2 873.3,952.6 880.0,955.6C886.7,958.6 893.6,962.1 900.0,966.2C906.4,970.4 913.8,976.5 918.3,980.5C922.8,984.5 924.1,986.7 927.0,990.0C929.9,993.3 932.5,995.5 935.8,1000.5C939.1,1005.5 943.2,1013.4 946.7,1020.0C950.2,1026.6 953.5,1033.3 956.8,1040.0C960.1,1046.7 963.1,1053.3 966.3,1060.0C969.4,1066.7 972.6,1073.3 975.7,1080.0C978.9,1086.7 982.0,1093.3 985.2,1100.0C988.4,1106.7 992.3,1115.0 994.7,1120.0C997.1,1125.0 997.9,1125.8 999.5,1130.0C1001.1,1134.2 1002.8,1140.0 1004.3,1145.0C1005.8,1150.0 1007.4,1155.0 1008.5,1160.0C1009.6,1165.0 1010.3,1170.0 1010.9,1175.0C1011.5,1180.0 1011.9,1185.0 1012.1,1190.0C1012.3,1195.0 1012.2,1200.0 1012.1,1205.0C1012.0,1210.0 1011.8,1215.0 1011.5,1220.0C1011.2,1225.0 1011.1,1230.0 1010.3,1235.0C1009.5,1240.0 1008.0,1245.8 1006.7,1250.0C1005.4,1254.2 1004.2,1257.0 1002.5,1260.0C1000.8,1263.0 998.5,1265.7 996.5,1268.0C994.5,1270.3 993.0,1272.1 990.5,1274.0C988.0,1275.9 984.1,1278.9 981.5,1279.4C978.9,1279.9 977.0,1277.7 974.9,1277.2C972.8,1276.7 971.3,1276.3 968.8,1276.3C966.3,1276.3 963.1,1277.0 960.0,1277.2C956.9,1277.4 953.3,1277.4 950.0,1277.2C946.7,1277.0 943.3,1276.7 940.0,1276.1C936.7,1275.5 933.3,1274.4 930.0,1273.5C926.7,1272.6 923.3,1271.3 920.0,1270.5C916.7,1269.7 913.3,1269.0 910.0,1268.8C906.7,1268.6 903.3,1268.9 900.0,1269.1C896.7,1269.3 893.3,1269.8 890.0,1269.8C886.7,1269.8 883.3,1269.5 880.0,1269.4C876.7,1269.3 873.3,1269.0 870.0,1269.3C866.7,1269.6 863.3,1270.2 860.0,1271.3C856.7,1272.4 853.3,1274.2 850.0,1275.7C846.7,1277.2 843.3,1279.2 840.0,1280.5C836.7,1281.8 833.3,1282.8 830.0,1283.7C826.7,1284.6 823.3,1285.2 820.0,1285.8C816.7,1286.3 813.3,1286.6 810.0,1287.0C806.7,1287.4 803.3,1287.7 800.0,1288.4C796.7,1289.1 793.3,1289.7 790.0,1291.0C786.7,1292.3 783.8,1293.8 780.0,1296.3C776.2,1298.8 771.3,1302.7 767.2,1305.7C763.1,1308.7 759.9,1311.6 755.5,1314.5C751.1,1317.4 745.7,1321.1 740.8,1323.2C735.9,1325.3 731.1,1326.3 726.2,1326.9C721.3,1327.5 716.4,1327.5 711.5,1326.9C706.6,1326.3 701.5,1325.0 696.9,1323.2C692.3,1321.4 687.6,1318.8 683.7,1315.9C679.8,1313.0 676.3,1309.4 673.4,1305.7C670.5,1302.0 668.0,1298.3 666.1,1293.9C664.2,1289.5 662.5,1284.1 661.7,1279.3C661.0,1274.5 661.6,1267.3 661.6,1264.9" fill="none" stroke="#1e1a1b" stroke-width="4.4" stroke-linecap="round" stroke-linejoin="round"/>
<path d="M661.6,1264.9C661.5,1262.9 660.6,1256.7 660.7,1252.6C660.9,1248.5 661.3,1244.4 662.5,1240.3C663.7,1236.2 665.4,1232.1 667.8,1228.0C670.1,1223.9 673.4,1220.4 676.6,1215.7C679.8,1211.0 683.6,1205.2 687.1,1199.9C690.6,1194.6 693.1,1188.5 697.7,1184.1C702.3,1179.7 708.8,1176.8 714.5,1173.4C720.2,1170.1 726.1,1167.3 732.0,1164.0C737.9,1160.7 743.3,1157.3 749.6,1153.4C755.9,1149.5 764.2,1144.6 770.0,1140.5C775.8,1136.4 779.7,1132.2 784.4,1128.6C789.1,1125.0 794.3,1121.4 798.4,1118.9C802.5,1116.4 805.5,1114.6 809.0,1113.6C812.5,1112.6 816.0,1113.1 819.5,1112.7C823.0,1112.3 826.9,1112.2 830.1,1111.3C833.3,1110.4 836.0,1109.5 838.9,1107.5C841.8,1105.5 844.8,1102.8 847.7,1099.6C850.6,1096.4 853.8,1091.2 856.4,1088.1C859.0,1085.0 862.3,1082.3 863.5,1081.1" fill="none" stroke="#1e1a1b" stroke-width="4.4" stroke-linecap="round" stroke-linejoin="round"/>
<path d="M752.5,969.2C750.1,969.2 744.0,968.5 738.4,968.9C732.8,969.3 725.5,970.1 719.1,971.9C712.7,973.7 706.0,976.7 700.0,979.6C694.0,982.5 687.5,986.0 683.1,989.2C678.7,992.4 676.2,995.4 673.5,998.8C670.8,1002.2 668.4,1005.8 666.6,1009.7C664.8,1013.6 663.9,1018.1 662.5,1022.0C661.1,1025.9 660.0,1029.3 658.4,1033.0C656.8,1036.7 655.7,1039.4 653.0,1043.9C650.3,1048.4 645.7,1055.7 642.0,1060.0C638.3,1064.3 634.5,1067.5 630.9,1069.9C627.3,1072.3 624.1,1072.2 620.3,1074.3C616.5,1076.3 611.8,1078.5 608.0,1082.2C604.2,1085.9 600.4,1091.5 597.5,1096.2C594.6,1100.9 592.0,1105.5 590.4,1110.3C588.8,1115.1 588.2,1122.8 587.8,1125.3" fill="none" stroke="#1e1a1b" stroke-width="2.0" stroke-linecap="round" stroke-linejoin="round"/>
<path d="M777.1,961.3C776.2,961.3 773.8,960.6 771.8,961.3C769.8,962.0 766.8,963.8 764.8,965.7C762.8,967.6 761.2,970.1 759.5,972.7C757.8,975.3 756.6,979.0 754.3,981.5C752.0,984.0 748.1,985.7 745.5,987.7C742.9,989.8 740.8,991.0 738.4,993.8C736.0,996.6 733.4,1000.3 731.4,1004.4C729.4,1008.5 727.0,1016.1 726.1,1018.4" fill="none" stroke="#1e1a1b" stroke-width="2.0" stroke-linecap="round" stroke-linejoin="round"/>
<path d="M730.5,1031.6C728.5,1033.0 723.9,1036.8 718.7,1040.0C713.5,1043.2 704.9,1047.2 699.4,1050.5C693.9,1053.8 689.5,1057.2 685.7,1059.9C681.9,1062.6 679.9,1063.3 676.6,1066.4C673.3,1069.5 669.5,1073.4 666.0,1078.7C662.5,1084.0 659.3,1091.0 655.5,1098.0C651.7,1105.0 647.0,1113.6 643.2,1120.9C639.4,1128.2 635.2,1136.4 632.6,1142.0C630.0,1147.6 629.3,1150.2 627.3,1154.3C625.2,1158.4 622.6,1162.3 620.3,1166.6C618.0,1170.9 614.5,1177.7 613.3,1179.9" fill="none" stroke="#1e1a1b" stroke-width="2.0" stroke-linecap="round" stroke-linejoin="round"/>
<path d="M730.5,1031.6C729.8,1033.5 727.0,1038.3 726.1,1043.0C725.2,1047.7 725.1,1055.7 725.3,1059.9C725.5,1064.1 726.6,1065.1 727.5,1068.1C728.4,1071.1 729.7,1073.5 730.8,1078.0C731.9,1082.5 733.6,1088.8 734.3,1095.2C735.0,1101.6 735.5,1108.6 735.2,1116.2C734.9,1123.8 734.7,1134.3 732.5,1140.9C730.3,1147.5 723.8,1153.3 722.0,1155.8" fill="none" stroke="#1e1a1b" stroke-width="2.0" stroke-linecap="round" stroke-linejoin="round"/>
<path d="M833.4,947.8C832.5,949.0 830.1,952.8 828.1,955.2C826.1,957.6 824.0,959.9 821.1,962.2C818.2,964.5 814.0,966.6 810.5,969.2C807.0,971.8 802.6,974.5 800.0,978.0C797.4,981.5 796.0,985.3 794.7,990.3C793.4,995.3 793.2,1002.6 792.0,1007.9C790.8,1013.2 790.2,1017.3 787.7,1022.0C785.2,1026.7 780.3,1031.6 777.1,1036.0C773.9,1040.4 770.4,1044.3 768.3,1048.3C766.1,1052.3 765.3,1055.1 764.2,1060.0C763.1,1064.9 762.1,1071.7 761.5,1077.6C760.9,1083.5 761.2,1089.3 760.6,1095.2C760.0,1101.1 759.3,1106.9 758.0,1112.7C756.7,1118.5 754.8,1125.2 752.7,1130.3C750.7,1135.4 746.9,1141.3 745.7,1143.5" fill="none" stroke="#1e1a1b" stroke-width="2.0" stroke-linecap="round" stroke-linejoin="round"/>
<path d="M879.1,961.7C877.9,962.2 874.2,963.2 872.1,964.8C870.0,966.3 868.1,968.5 866.8,971.0C865.5,973.5 865.1,976.6 864.2,979.8C863.3,983.0 862.5,987.1 861.5,990.3C860.5,993.5 859.8,996.2 858.0,999.1C856.2,1002.0 853.6,1004.7 851.0,1007.9C848.4,1011.1 845.7,1015.2 842.2,1018.4C838.7,1021.6 834.0,1024.0 829.9,1027.2C825.8,1030.4 821.4,1034.6 817.6,1037.8C813.8,1041.0 809.9,1043.4 807.0,1046.6C804.1,1049.8 801.7,1053.4 800.0,1057.1C798.3,1060.8 797.2,1062.4 796.7,1068.8C796.2,1075.2 796.7,1090.8 796.7,1095.2" fill="none" stroke="#1e1a1b" stroke-width="2.0" stroke-linecap="round" stroke-linejoin="round"/>
<path d="M867.7,1039.0C869.0,1039.0 872.8,1038.2 875.6,1038.7C878.4,1039.2 881.8,1040.3 884.4,1042.2C887.0,1044.1 889.7,1047.0 891.4,1050.1C893.1,1053.2 894.0,1056.9 894.4,1060.6C894.8,1064.3 894.6,1069.1 893.9,1072.5C893.2,1075.9 890.7,1079.4 890.1,1080.8" fill="none" stroke="#1e1a1b" stroke-width="2.0" stroke-linecap="round" stroke-linejoin="round"/>
<path d="M704.7,1101.5C704.7,1106.8 705.3,1125.9 704.7,1133.2C704.1,1140.5 701.9,1140.5 701.2,1145.5C700.5,1150.5 700.3,1157.3 700.3,1163.0C700.3,1168.7 701.1,1177.1 701.2,1179.9" fill="none" stroke="#1e1a1b" stroke-width="2.0" stroke-linecap="round" stroke-linejoin="round"/>
<path d="M643.2,1206.9C644.7,1205.6 648.9,1201.3 652.0,1199.0C655.1,1196.7 655.5,1193.9 661.6,1192.9C667.8,1191.9 684.4,1192.9 688.9,1192.9" fill="none" stroke="#1e1a1b" stroke-width="2.0" stroke-linecap="round" stroke-linejoin="round"/>
<path d="M694.1,1277.2C695.0,1273.1 697.0,1259.9 699.4,1252.6C701.8,1245.3 705.3,1239.1 708.2,1233.3C711.1,1227.5 714.1,1222.2 717.0,1217.5C719.9,1212.8 723.6,1208.1 725.8,1205.2C728.0,1202.3 727.9,1201.3 730.0,1200.0C732.1,1198.7 734.9,1198.6 738.7,1197.6C742.5,1196.6 747.4,1194.8 752.7,1194.1C758.0,1193.4 764.4,1193.9 770.3,1193.2C776.2,1192.5 782.0,1191.2 787.9,1189.7C793.8,1188.2 799.6,1186.1 805.5,1184.4C811.4,1182.7 817.1,1181.8 823.0,1179.5C828.9,1177.2 834.7,1174.2 840.6,1170.7C846.5,1167.2 853.5,1162.2 858.2,1158.4C862.9,1154.6 865.1,1151.7 868.7,1147.9C872.3,1144.1 876.9,1140.6 880.0,1135.6C883.1,1130.6 884.6,1122.4 887.2,1117.8C889.8,1113.2 894.2,1109.8 895.6,1108.2" fill="none" stroke="#1e1a1b" stroke-width="2.0" stroke-linecap="round" stroke-linejoin="round"/>
<path d="M724.6,1320.6C725.8,1318.3 728.7,1311.9 731.6,1306.6C734.5,1301.3 738.7,1293.7 742.2,1289.0C745.7,1284.3 748.9,1281.3 752.7,1278.4C756.5,1275.5 761.2,1272.7 765.0,1271.4C768.8,1270.1 772.1,1270.7 775.6,1270.5C779.1,1270.3 782.9,1271.2 786.1,1270.5C789.3,1269.8 791.7,1268.3 794.9,1266.1C798.1,1263.9 801.4,1260.5 805.5,1257.3C809.6,1254.1 814.8,1250.3 819.5,1246.8C824.2,1243.3 829.5,1239.2 833.6,1236.2C837.7,1233.2 841.2,1230.2 844.1,1228.9C847.0,1227.6 848.9,1228.2 851.2,1228.3C853.6,1228.3 855.6,1229.6 858.2,1229.2C860.8,1228.8 863.4,1228.3 867.0,1225.7C870.6,1223.1 874.6,1218.3 880.0,1213.4C885.4,1208.5 893.5,1202.2 899.1,1196.2C904.7,1190.2 909.0,1183.2 913.4,1177.2C917.8,1171.2 921.9,1166.1 925.3,1160.5C928.7,1154.9 932.1,1149.0 933.7,1143.8C935.3,1138.6 934.7,1131.9 934.9,1129.5" fill="none" stroke="#1e1a1b" stroke-width="2.0" stroke-linecap="round" stroke-linejoin="round"/>
<ellipse cx="713.8" cy="1160.3" rx="6.6" ry="7.1" fill="none" stroke="#1e1a1b" stroke-width="1.9"/>
<ellipse cx="744.8" cy="1141.7" rx="6.6" ry="7.1" fill="none" stroke="#1e1a1b" stroke-width="1.9"/>
<ellipse cx="770" cy="1126.8" rx="6.6" ry="7.1" fill="none" stroke="#1e1a1b" stroke-width="1.9"/>
<ellipse cx="801.1" cy="1107.8" rx="6.6" ry="7.1" fill="none" stroke="#1e1a1b" stroke-width="1.9"/>
<ellipse cx="832.2" cy="1089.9" rx="6.6" ry="7.1" fill="none" stroke="#1e1a1b" stroke-width="1.9"/>
<ellipse cx="849.1" cy="1125.6" rx="6.6" ry="7.1" fill="none" stroke="#1e1a1b" stroke-width="1.9"/>
<ellipse cx="817.8" cy="1144" rx="6.6" ry="7.1" fill="none" stroke="#1e1a1b" stroke-width="1.9"/>
<ellipse cx="790.9" cy="1163.4" rx="6.6" ry="7.1" fill="none" stroke="#1e1a1b" stroke-width="1.9"/>
<ellipse cx="761.5" cy="1178.5" rx="6.6" ry="7.1" fill="none" stroke="#1e1a1b" stroke-width="1.9"/>
<ellipse cx="730" cy="1195.2" rx="6.6" ry="7.1" fill="none" stroke="#1e1a1b" stroke-width="1.9"/>
<ellipse cx="865.4" cy="1161.1" rx="6.6" ry="7.1" fill="none" stroke="#1e1a1b" stroke-width="1.9"/>
<ellipse cx="834.5" cy="1182.2" rx="6.6" ry="7.1" fill="none" stroke="#1e1a1b" stroke-width="1.9"/>
<ellipse cx="803.4" cy="1198.2" rx="6.6" ry="7.1" fill="none" stroke="#1e1a1b" stroke-width="1.9"/>
<ellipse cx="877.6" cy="1189.2" rx="6.6" ry="7.1" fill="none" stroke="#1e1a1b" stroke-width="1.9"/>
<ellipse cx="847.8" cy="1208.1" rx="6.6" ry="7.1" fill="none" stroke="#1e1a1b" stroke-width="1.9"/>
<ellipse cx="816.5" cy="1226.6" rx="6.6" ry="7.1" fill="none" stroke="#1e1a1b" stroke-width="1.9"/>
<ellipse cx="863.2" cy="1234.4" rx="6.6" ry="7.1" fill="none" stroke="#1e1a1b" stroke-width="1.9"/>
<ellipse cx="831.4" cy="1253" rx="6.6" ry="7.1" fill="none" stroke="#1e1a1b" stroke-width="1.9"/>
<ellipse cx="806.7" cy="1267.8" rx="6.6" ry="7.1" fill="none" stroke="#1e1a1b" stroke-width="1.9"/>
<ellipse cx="775.6" cy="1286.3" rx="6.6" ry="7.1" fill="none" stroke="#1e1a1b" stroke-width="1.9"/>
<circle cx="736.6" cy="1233.3" r="11.4" fill="none" stroke="#1e1a1b" stroke-width="2.1"/>
<text transform="translate(736.6,1233.3) rotate(-34)" font-size="14" text-anchor="middle" dy="5" fill="#1e1a1b" stroke="#1e1a1b" stroke-width="0.35">11</text>
<circle cx="772.1" cy="1215.7" r="11.4" fill="none" stroke="#1e1a1b" stroke-width="2.1"/>
<text transform="translate(772.1,1215.7) rotate(-34)" font-size="14" text-anchor="middle" dy="5" fill="#1e1a1b" stroke="#1e1a1b" stroke-width="0.35">12</text>
<circle cx="754.5" cy="1259.5" r="11.4" fill="none" stroke="#1e1a1b" stroke-width="2.1"/>
<text transform="translate(754.5,1259.5) rotate(-34)" font-size="14" text-anchor="middle" dy="5" fill="#1e1a1b" stroke="#1e1a1b" stroke-width="0.35">16</text>
<circle cx="789.3" cy="1242.4" r="11.4" fill="none" stroke="#1e1a1b" stroke-width="2.1"/>
<text transform="translate(789.3,1242.4) rotate(-34)" font-size="14" text-anchor="middle" dy="5" fill="#1e1a1b" stroke="#1e1a1b" stroke-width="0.35">17</text>
</svg>
</body></html>
